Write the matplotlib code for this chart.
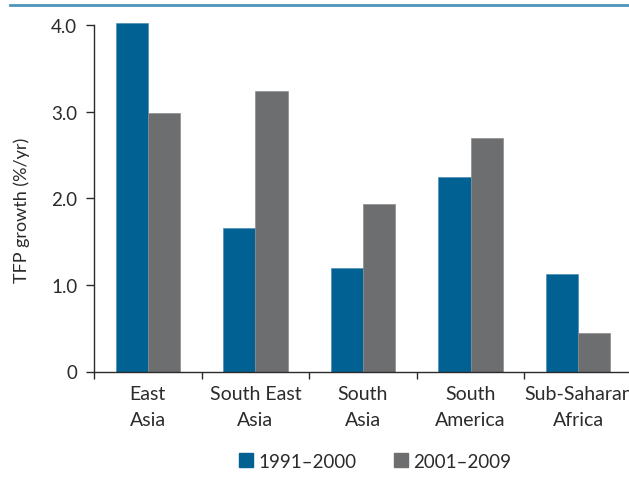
import numpy as np
import matplotlib.pyplot as plt
from matplotlib.lines import Line2D

# data
REGIONS = ["East\nAsia", "South East\nAsia", "South\nAsia", "South\nAmerica", "Sub-Saharan\nAfrica"]
TFP_1991_2000 = [4.02, 1.66, 1.19, 2.24, 1.13]
TFP_2001_2009 = [2.98, 3.24, 1.93, 2.69, 0.45]
SERIES_LABELS = ["1991–2000", "2001–2009"]
Y_TICKS = [0, 1, 2, 3, 4]
Y_TICK_LABELS = ["0", "1.0", "2.0", "3.0", "4.0"]

BLUE = "#006192"
GREY = "#6d6e70"
TEXT = "#2b2b2b"

plt.rcParams["font.family"] = ["Lato", "DejaVu Sans"]

fig = plt.figure(figsize=(6.29, 4.81), dpi=100)
ax = fig.add_axes([94 / 629, 1 - 372.5 / 481, (632 - 94) / 629, (372.5 - 26) / 481])

x = np.arange(len(REGIONS))
w = 0.3
ax.bar(x - w / 2, TFP_1991_2000, width=w, color=BLUE, edgecolor="#4f8fb5",
       linewidth=0.5, clip_on=False, zorder=2)
ax.bar(x + w / 2, TFP_2001_2009, width=w, color=GREY, edgecolor="#8a8b8d",
       linewidth=0.5, clip_on=False, zorder=2)

ax.set_xlim(-0.5, len(REGIONS) - 0.5)
ax.set_ylim(0, 4)

# boundary ticks (major, no labels) and centred labels (minor, no tick)
ax.set_xticks(np.arange(-0.5, len(REGIONS), 1.0))
ax.set_xticklabels([])
ax.set_xticks(x, minor=True)
ax.set_xticklabels(REGIONS, minor=True, fontsize=14, color=TEXT, linespacing=1.65)
ax.tick_params(axis="x", which="major", direction="out", length=5, width=1, color=TEXT)
ax.tick_params(axis="x", which="minor", length=0, pad=10)

ax.set_yticks(Y_TICKS)
ax.set_yticklabels(Y_TICK_LABELS, fontsize=13.5, color=TEXT)
ax.tick_params(axis="y", direction="out", length=6, width=1, color=TEXT, pad=6)

for side in ["top", "right"]:
    ax.spines[side].set_visible(False)
for side in ["left", "bottom"]:
    ax.spines[side].set_color(TEXT)
    ax.spines[side].set_linewidth(1)

fig.text(22 / 629, 1 - 210 / 481, "TFP growth (%/yr)", rotation=90,
         ha="center", va="center", fontsize=13, color=TEXT)

# blue rule at the very top
fig.add_artist(Line2D([10 / 629, 1.0], [1 - 5.5 / 481, 1 - 5.5 / 481],
                      color="#4f93bd", linewidth=2))

handles = [plt.Rectangle((0, 0), 1, 1, color=BLUE),
           plt.Rectangle((0, 0), 1, 1, color=GREY)]
fig.legend(handles, SERIES_LABELS, loc="center", bbox_to_anchor=(375 / 629, 1 - 462 / 481),
           ncol=2, frameon=False, fontsize=13.5, handlelength=0.75, handleheight=0.75,
           handletextpad=0.3, columnspacing=2.0, labelcolor=TEXT)

fig.savefig("out.png", dpi=100)
